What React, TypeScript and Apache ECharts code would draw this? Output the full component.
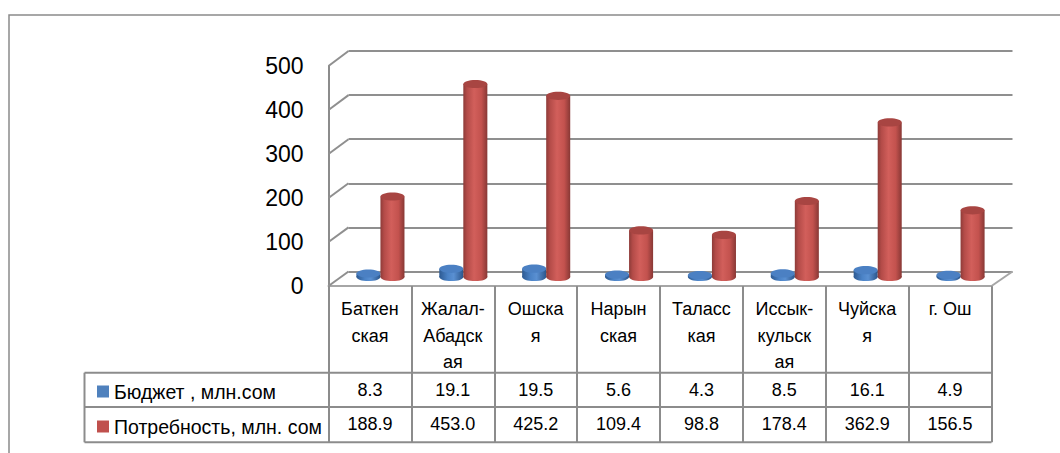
import React, { useEffect, useRef } from "react";
import * as echarts from "echarts";

// Regions and their values (млн. сом)
const regions = [
  "Баткенская",
  "Жалал-Абадская",
  "Ошская",
  "Нарынская",
  "Таласская",
  "Иссык-кульская",
  "Чуйская",
  "г. Ош",
];
// Header cells, wrapped the way the table column shows them
const regionLabels = [
  "Баткен\nская",
  "Жалал-\nАбадск\nая",
  "Ошска\nя",
  "Нарын\nская",
  "Таласс\nкая",
  "Иссык-\nкульск\nая",
  "Чуйска\nя",
  "г. Ош",
];
const seriesNames = ["Бюджет , млн.сом", "Потребность, млн. сом"];
const budget = [8.3, 19.1, 19.5, 5.6, 4.3, 8.5, 16.1, 4.9];
const need = [188.9, 453.0, 425.2, 109.4, 98.8, 178.4, 362.9, 156.5];
const yTicks = [0, 100, 200, 300, 400, 500];

const FONT = "'Liberation Sans', Arial, sans-serif";
const LINE = "#8c8c8c";

// Layout of the pseudo-3D box: front plane, back wall, and the mid-depth plane
const FRONT = { left: 328.5, top: 66, right: 991.5, bottom: 286 };
const BACK = { left: 348.5, top: 51, right: 1012.5, bottom: 271.5 };
const MID = { left: 339, top: 64, right: 1002, bottom: 277 };
const ROWS = [372.7, 407, 442.3];
const TABLE_LEFT = 84.5;

const gridOf = (b: { left: number; top: number; right: number; bottom: number }) => ({
  left: b.left,
  top: b.top,
  width: b.right - b.left,
  height: b.bottom - b.top,
  containLabel: false,
});

const PALETTES = [
  {
    stops: [
      { offset: 0, color: "#2d5a92" },
      { offset: 0.35, color: "#4a82c6" },
      { offset: 0.6, color: "#5a90d2" },
      { offset: 1, color: "#2b568c" },
    ],
    top: "#4b80c3",
  },
  {
    stops: [
      { offset: 0, color: "#8d3b38" },
      { offset: 0.15, color: "#b34b48" },
      { offset: 0.45, color: "#d25f5b" },
      { offset: 0.75, color: "#c3524e" },
      { offset: 1, color: "#883835" },
    ],
    top: "#a84542",
  },
];

function renderCylinder(params: any, api: any) {
  const idx = api.value(0);
  const v = api.value(1);
  const base = api.coord([idx, 0]);
  const top = api.coord([idx, v]);
  const band = api.size([1, 0])[0];
  const w = band * 0.29;
  const rx = w / 2;
  const ry = w * 0.17;
  const cx = base[0] + (params.seriesIndex === 0 ? -0.145 : 0.145) * band;
  const pal = PALETTES[params.seriesIndex];
  const grad = new echarts.graphic.LinearGradient(0, 0, 1, 0, pal.stops);
  return {
    type: "group",
    children: [
      { type: "ellipse", shape: { cx, cy: base[1], rx, ry }, style: { fill: grad } },
      {
        type: "rect",
        shape: { x: cx - rx, y: top[1], width: w, height: Math.max(0, base[1] - top[1]) },
        style: { fill: grad },
      },
      { type: "ellipse", shape: { cx, cy: top[1], rx, ry }, style: { fill: pal.top } },
    ],
  };
}

export default function App() {
  const ref = useRef<HTMLDivElement>(null);

  useEffect(() => {
    document.body.style.margin = "0";
    if (!ref.current) return;
    const chart = echarts.init(ref.current, undefined, { renderer: "svg" });

    const valueAxis = (gridIndex: number, extra: any) => ({
      type: "value",
      gridIndex,
      min: 0,
      max: 500,
      interval: 100,
      axisTick: { show: false },
      ...extra,
    });

    chart.setOption({
      animation: false,
      color: ["#4F81BD", "#C0504D"],
      textStyle: { fontFamily: FONT },
      grid: [gridOf(FRONT), gridOf(BACK), gridOf(MID)],
      legend: {
        orient: "vertical",
        left: 92,
        top: 376,
        icon: "rect",
        itemWidth: 12,
        itemHeight: 12,
        itemGap: 14,
        selectedMode: false,
        data: seriesNames,
        textStyle: { fontSize: 19.5, lineHeight: 21, color: "#000", fontFamily: FONT },
      },
      xAxis: [
        {
          type: "category",
          gridIndex: 0,
          data: regions,
          position: "bottom",
          axisLine: { show: true, lineStyle: { color: "#a6a6a6", width: 2 } },
          axisTick: {
            show: true,
            interval: 0,
            length: ROWS[2] - FRONT.bottom,
            lineStyle: { color: LINE, width: 2 },
          },
          axisLabel: {
            interval: 0,
            margin: 10,
            fontSize: 18,
            lineHeight: 26.5,
            color: "#000",
            fontFamily: FONT,
            formatter: (_: string, i: number) => regionLabels[i],
          },
        },
        {
          type: "category",
          gridIndex: 0,
          data: budget.map((v) => v.toFixed(1)),
          position: "bottom",
          offset: ROWS[0] - FRONT.bottom,
          axisLine: { show: false },
          axisTick: { show: false },
          axisLabel: { interval: 0, margin: 7, fontSize: 18, lineHeight: 20, color: "#000", fontFamily: FONT },
        },
        {
          type: "category",
          gridIndex: 0,
          data: need.map((v) => v.toFixed(1)),
          position: "bottom",
          offset: ROWS[1] - FRONT.bottom,
          axisLine: { show: false },
          axisTick: { show: false },
          axisLabel: { interval: 0, margin: 7, fontSize: 18, lineHeight: 20, color: "#000", fontFamily: FONT },
        },
        { type: "category", gridIndex: 1, data: regions, show: false },
        { type: "category", gridIndex: 2, data: regions, show: false },
      ],
      yAxis: [
        valueAxis(0, {
          axisLine: { show: true, lineStyle: { color: LINE, width: 2 } },
          splitLine: { show: false },
          axisLabel: { fontSize: 23, margin: 25, color: "#000", fontFamily: FONT },
        }),
        valueAxis(1, {
          axisLine: { show: false },
          axisLabel: { show: false },
          splitLine: { show: true, lineStyle: { color: "#8f8f8f", width: 2 } },
        }),
        valueAxis(2, { show: false, splitLine: { show: false } }),
      ],
      series: [
        {
          name: seriesNames[0],
          type: "custom",
          xAxisIndex: 4,
          yAxisIndex: 2,
          renderItem: renderCylinder,
          encode: { x: 0, y: 1 },
          data: budget.map((v, i) => [i, v]),
          z: 3,
        },
        {
          name: seriesNames[1],
          type: "custom",
          xAxisIndex: 4,
          yAxisIndex: 2,
          renderItem: renderCylinder,
          encode: { x: 0, y: 1 },
          data: need.map((v, i) => [i, v]),
          z: 4,
        },
      ],
    });

    // Side wall, floor edges and table rules, placed from the axes' own scales
    const frontY = (v: number) => chart.convertToPixel({ yAxisIndex: 0 }, v) as number;
    const backY = (v: number) => chart.convertToPixel({ yAxisIndex: 1 }, v) as number;
    const wallLines = yTicks.map((v) => ({
      type: "line",
      shape: { x1: FRONT.left, y1: frontY(v), x2: BACK.left, y2: backY(v) },
      style: { stroke: "#8f8f8f", lineWidth: 2 },
      z: 1,
    }));
    const floorEdge = {
      type: "line",
      shape: { x1: FRONT.right, y1: frontY(0), x2: BACK.right, y2: backY(0) },
      style: { stroke: "#a6a6a6", lineWidth: 2 },
      z: 1,
    };
    const rowLines = ROWS.map((y) => ({
      type: "line",
      shape: { x1: TABLE_LEFT, y1: y, x2: FRONT.right, y2: y },
      style: { stroke: LINE, lineWidth: 2 },
      z: 1,
    }));
    const legendColumnEdge = {
      type: "line",
      shape: { x1: TABLE_LEFT, y1: ROWS[0], x2: TABLE_LEFT, y2: ROWS[2] },
      style: { stroke: LINE, lineWidth: 2 },
      z: 1,
    };
    const frame = {
      type: "rect",
      shape: { x: 9, y: 15, width: 1300, height: 700 },
      style: { fill: "none", stroke: "#8b8b8b", lineWidth: 1.5 },
      z: 0,
    };

    chart.setOption({
      graphic: [frame, ...wallLines, floorEdge, ...rowLines, legendColumnEdge],
    });

    return () => chart.dispose();
  }, []);

  return <div ref={ref} style={{ width: 1060, height: 453 }} />;
}
